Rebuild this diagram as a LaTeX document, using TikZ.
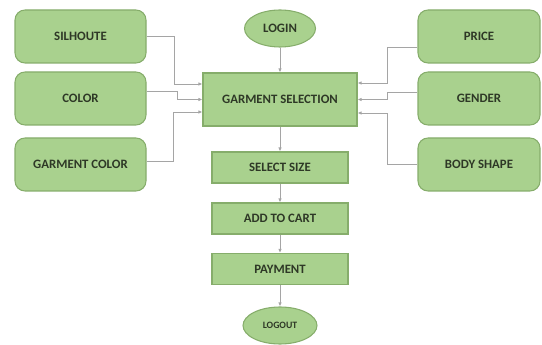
\documentclass[tikz,border=0pt]{standalone}
\usepackage{fontspec}
\setmainfont{Carlito}
\usepackage{xcolor}
\usetikzlibrary{arrows.meta,calc,shapes.geometric}
\definecolor{boxfill}{HTML}{A9D18E}
\definecolor{boxline}{HTML}{86AD6B}
\definecolor{linegray}{HTML}{A5A5A5}
\definecolor{textdark}{HTML}{2E3826}

\begin{document}
\begin{tikzpicture}[x=0.75pt,y=0.75pt,yscale=-1,xscale=1,
    side/.style={draw=boxline,fill=boxfill,rounded corners=7.5pt,line width=0.8pt,minimum width=98.25pt,minimum height=39.75pt,inner sep=0pt,text=textdark,font=\fontsize{9.6}{12}\selectfont\bfseries},
    sider/.style={side,minimum width=91.5pt},
    mainbox/.style={draw=boxline,fill=boxfill,line width=0.8pt,minimum width=115.5pt,minimum height=39.75pt,inner sep=0pt,text=textdark,font=\fontsize{9.6}{12}\selectfont\bfseries},
    stepbox/.style={mainbox,minimum width=102pt,minimum height=23.25pt},
    oval/.style={draw=boxline,fill=boxfill,ellipse,line width=0.8pt,minimum width=53.25pt,minimum height=27.75pt,inner sep=0pt,text=textdark,font=\fontsize{9.6}{12}\selectfont\bfseries},
    link/.style={draw=linegray,line width=0.6pt,-{Latex[length=3pt,width=2.6pt]}}]
        %uncomment if require: \path (0,345); %set diagram left start at 0, and has height of 345
        \useasboundingbox (0,0) rectangle (542,345);

        %Shape: Ellipse [id:login]
        \node [oval] (login) at (280,28.5) {LOGIN};
        %Shape: Rectangle [id:gs]
        \node [mainbox] (gs) at (280,99.5) {GARMENT SELECTION};
        %Shape: Rectangle [id:size]
        \node [stepbox] (size) at (280,167.5) {SELECT SIZE};
        %Shape: Rectangle [id:cart]
        \node [stepbox] (cart) at (280,218.5) {ADD TO CART};
        %Shape: Rectangle [id:pay]
        \node [stepbox] (pay) at (280,269) {PAYMENT};
        %Shape: Ellipse [id:logout]
        \node [oval,minimum width=55.5pt,font=\fontsize{7.3}{9}\selectfont\bfseries] (logout) at (280,325.5) {LOGOUT};

        %Shape: Rounded Rect [id:left]
        \node [side] (sil) at (80.5,36.5) {SILHOUTE};
        \node [side] (col) at (80.5,98.5) {COLOR};
        \node [side] (gcol) at (80.5,164.5) {GARMENT COLOR};
        %Shape: Rounded Rect [id:right]
        \node [sider] (price) at (479,36.5) {PRICE};
        \node [sider] (gender) at (479,98.5) {GENDER};
        \node [sider] (body) at (479,164.5) {BODY SHAPE};

        % Main flow
        \draw [link] (login) -- (gs);
        \draw [link] (gs) -- (size);
        \draw [link] (size) -- (cart);
        \draw [link] (cart) -- (pay);
        \draw [link] (pay) -- (logout);

        % Left inputs
        \draw [link] (sil.east) -- ++(28,0) |- ($(gs.west)+(0,-15.5)$);
        \draw [link] ($(col.east)+(0,-7.5)$) -- ++(31,0) |- (gs.west);
        \draw [link] ($(gcol.east)+(0,-3)$) -- ++(27,0) |- ($(gs.west)+(0,12.5)$);
        % Right inputs
        \draw [link] ($(price.west)+(0,10.5)$) -- ++(-30,0) |- ($(gs.east)+(0,-16.5)$);
        \draw [link] ($(gender.west)+(0,-6.5)$) -- ++(-30,0) |- (gs.east);
        \draw [link] (body.west) -- ++(-30,0) |- ($(gs.east)+(0,13.5)$);

\end{tikzpicture}
\end{document}
